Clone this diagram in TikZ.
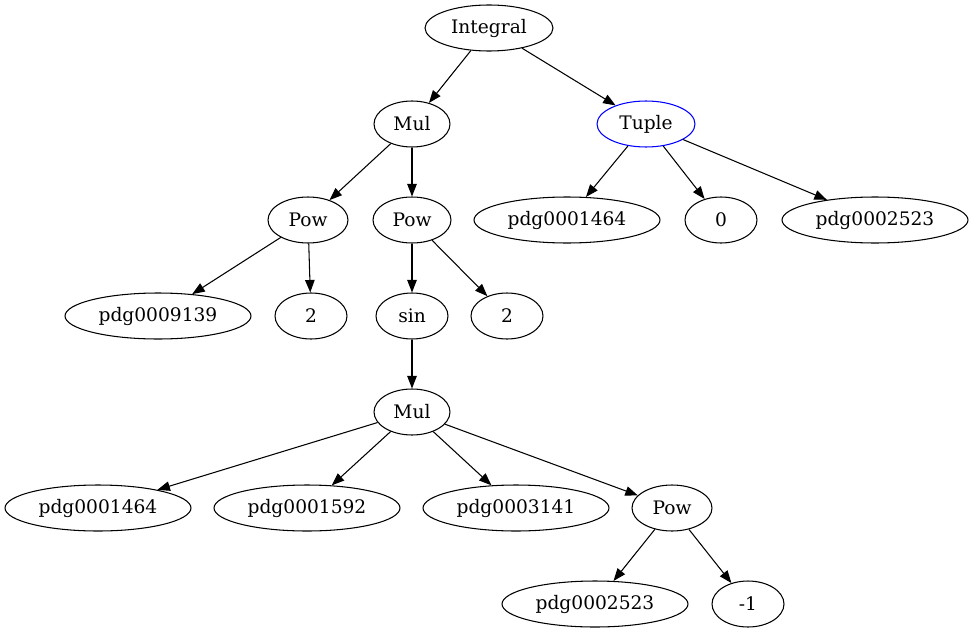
\documentclass[tikz,border=0pt]{standalone}
\usepackage{fontspec}
\setmainfont{DejaVu Serif}
\usetikzlibrary{shapes.geometric, arrows.meta}

\begin{document}
\begin{tikzpicture}[x=0.02cm, y=-0.02cm,
                    bag/.style={ellipse, draw, line width=0.6pt, inner sep=0pt, minimum height=0.92cm, minimum width=1.44cm, font=\fontsize{10.6}{12}\selectfont},
                    leaf/.style={bag, minimum width=3.72cm},
                    edge/.style={-{Triangle[length=0.25cm, width=0.19cm]}, line width=0.6pt}]
\useasboundingbox (0,0) rectangle (973,635);
% top
\node[bag, minimum width=2.56cm] (integral) at (489,28) {Integral};
\node[bag, minimum width=1.52cm] (mul) at (412,124) {Mul};
\node[bag, minimum width=1.96cm, draw=blue] (tuple) at (646,124) {Tuple};
% level 2
\node[bag, minimum width=1.6cm] (powa) at (308,220) {Pow};
\node[bag, minimum width=1.56cm] (powb) at (412,220) {Pow};
\node[leaf] (lowa) at (567,220) {pdg0001464};
\node[bag] (zero) at (721,220) {0};
\node[leaf] (upa) at (875,220) {pdg0002523};
% level 3
\node[leaf] (var) at (158,316) {pdg0009139};
\node[bag] (twoa) at (311,316) {2};
\node[bag] (sin) at (412,316) {sin};
\node[bag] (twob) at (507,316) {2};
% level 4
\node[bag, minimum width=1.52cm] (mulb) at (412,412) {Mul};
% level 5
\node[leaf] (ca) at (98,508) {pdg0001464};
\node[leaf] (cb) at (307,508) {pdg0001592};
\node[leaf] (cc) at (516,508) {pdg0003141};
\node[bag, minimum width=1.6cm] (powc) at (672,508) {Pow};
% level 6
\node[leaf] (upb) at (595,604) {pdg0002523};
\node[bag] (minus) at (748,604) {-1};

\draw[edge] (integral) -- (mul);
\draw[edge] (integral) -- (tuple);
\draw[edge] (mul) -- (powa);
\draw[edge] (mul) -- (powb);
\draw[edge] (tuple) -- (lowa);
\draw[edge] (tuple) -- (zero);
\draw[edge] (tuple) -- (upa);
\draw[edge] (powa) -- (var);
\draw[edge] (powa) -- (twoa);
\draw[edge] (powb) -- (sin);
\draw[edge] (powb) -- (twob);
\draw[edge] (sin) -- (mulb);
\draw[edge] (mulb) -- (ca);
\draw[edge] (mulb) -- (cb);
\draw[edge] (mulb) -- (cc);
\draw[edge] (mulb) -- (powc);
\draw[edge] (powc) -- (upb);
\draw[edge] (powc) -- (minus);
\end{tikzpicture}
\end{document}
